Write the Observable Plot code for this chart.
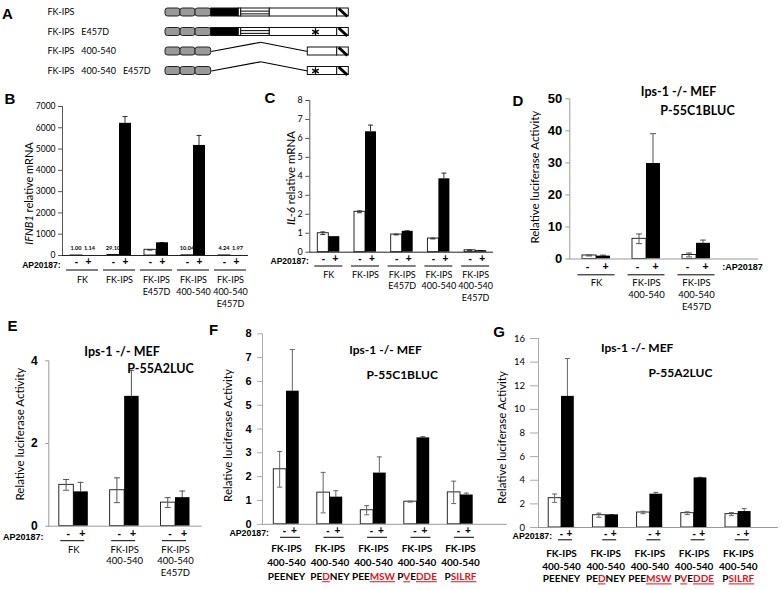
<!DOCTYPE html>
<html><head><meta charset="utf-8">
<script src="https://cdn.jsdelivr.net/npm/d3@7"></script>
<script src="https://cdn.jsdelivr.net/npm/@observablehq/plot@0.6"></script>
<style>
body{margin:0;background:#fff;}
#fig{position:relative;width:782px;height:590px;overflow:hidden;background:#fff;}
.panel{position:absolute;}
.panel svg{display:block;overflow:visible;}
.panel svg text,.panel svg tspan{white-space:pre;}
.letter{position:absolute;font:bold 15px "Liberation Sans",Arial,sans-serif;transform:translate(-50%,-50%);color:#000;}
</style></head><body><div id="fig"></div><script>
// ---------- DATA ----------
// Panel A: constructs
const aConstructs = ["FK-IPS", "FK-IPS   E457D", "FK-IPS   400-540", "FK-IPS   400-540   E457D"];
const aDeleted = [false, false, true, true];
const aMutant = [false, true, false, true];
const aFkbp = [[0, 15], [15, 30], [30, 45.7]];
const aBlack = [45.7, 73.3];
const aDivider = [73.3, 75.7];
const aStriped = [75.7, 104.3];
const aPlain = [104.3, 171.7];
const aShort = [142.3, 171.7];
const aTm = [171.7, 183.3];
const aSite = 150;
const aBend = 95;

// Panel B: IFNB1 relative mRNA
const bGroups = ["FK", "FK-IPS", "FK-IPS\nE457D", "FK-IPS\n400-540", "FK-IPS\n400-540\nE457D"];
const bMinus = [1.00, 29.10, 268, 10.04, 4.24];
const bMinusErr = [0, 0, 15, 0, 0];
const bPlus = [1.14, 6210, 596, 5170, 1.97];
const bPlusErr = [0, 320, 15, 470, 0];
const bMinusText = ["1.00", "29.10", "", "10.04", "4.24"];
const bPlusText = ["1.14", "", "", "", "1.97"];
const bTicks = [0, 1000, 2000, 3000, 4000, 5000, 6000, 7000];

// Panel C: IL-6 relative mRNA
const cGroups = ["FK", "FK-IPS", "FK-IPS\nE457D", "FK-IPS\n400-540", "FK-IPS\n400-540\nE457D"];
const cMinus = [1.00, 2.13, 0.93, 0.72, 0.10];
const cMinusErr = [0.07, 0.05, 0.02, 0.02, 0.01];
const cPlus = [0.82, 6.35, 1.10, 3.87, 0.08];
const cPlusErr = [0, 0.35, 0.03, 0.30, 0.01];
const cTicks = [0, 1, 2, 3, 4, 5, 6, 7, 8];

// Panel D: P-55C1BLUC
const dGroups = ["FK", "FK-IPS\n400-540", "FK-IPS\n400-540\nE457D"];
const dMinus = [1.1, 6.3, 1.25];
const dMinusErr = [0.15, 1.5, 0.6];
const dPlus = [0.9, 29.8, 4.9];
const dPlusErr = [0.3, 9.3, 1.0];
const dTicks = [0, 10, 20, 30, 40, 50];

// Panel E: P-55A2LUC
const eGroups = ["FK", "FK-IPS\n400-540", "FK-IPS\n400-540\nE457D"];
const eMinus = [1.0, 0.87, 0.57];
const eMinusErr = [0.13, 0.3, 0.12];
const ePlus = [0.83, 3.14, 0.69];
const ePlusErr = [0.23, 0.63, 0.16];
const eTicks = [0, 2, 4];

// Panels F and G: mutants
const fgGroups = ["FK-IPS\n400-540\nPEENEY", "FK-IPS\n400-540\nPEDNEY", "FK-IPS\n400-540\nPEEMSW", "FK-IPS\n400-540\nPVEDDE", "FK-IPS\n400-540\nPSILRF"];
const fMinus = [2.31, 1.33, 0.59, 0.95, 1.34];
const fMinusErr = [0.75, 0.85, 0.19, 0.02, 0.47];
const fPlus = [5.59, 1.14, 2.15, 3.63, 1.23];
const fPlusErr = [1.75, 0.27, 0.68, 0.05, 0.08];
const fTicks = [0, 1, 2, 3, 4, 5, 6, 7, 8];

const gMinus = [2.48, 1.04, 1.27, 1.21, 1.13];
const gMinusErr = [0.35, 0.17, 0.10, 0.12, 0.13];
const gPlus = [11.1, 1.07, 2.82, 4.2, 1.35];
const gPlusErr = [3.2, 0.03, 0.15, 0.05, 0.25];
const gTicks = [0, 2, 4, 6, 8, 10, 12, 14, 16];

// Rich text pieces (italic gene names, mutated residues)
const richText = {
  "IFNB1 relative mRNA": [["IFNB1", "i"], [" relative mRNA", ""]],
  "IL-6 relative mRNA": [["IL-6", "i"], [" relative mRNA", ""]],
  "PEDNEY": [["PE", ""], ["D", "m"], ["NEY", ""]],
  "PEEMSW": [["PEE", ""], ["MSW", "m"]],
  "PVEDDE": [["P", ""], ["V", "m"], ["E", ""], ["DDE", "m"]],
  "PSILRF": [["P", ""], ["SILRF", "m"]]
};

// ---------- STYLE ----------
const fontCal = "Lato, 'Open Sans', sans-serif";
const fontAri = "'Liberation Sans', Arial, sans-serif";
const ink = "#000";
const fig = document.getElementById("fig");

function richify(svg) {
  const ns = "http://www.w3.org/2000/svg";
  svg.querySelectorAll("text, tspan").forEach(el => {
    if (el.children.length) return;
    const spec = richText[el.textContent];
    if (!spec) return;
    el.textContent = "";
    for (const [t, s] of spec) {
      const ts = document.createElementNS(ns, "tspan");
      ts.textContent = t;
      if (s === "i") ts.setAttribute("font-style", "italic");
      if (s === "m") { ts.setAttribute("fill", "#e3121c"); ts.style.textDecoration = "underline"; }
      el.appendChild(ts);
    }
  });
  svg.querySelectorAll("text").forEach(t => { if (!t.hasAttribute("fill")) t.setAttribute("fill", ink); });
}

function mount(svg, left, top) {
  const d = document.createElement("div");
  d.className = "panel";
  d.style.left = left + "px";
  d.style.top = top + "px";
  d.appendChild(svg);
  fig.appendChild(d);
  richify(svg);
}

// ---------- PANEL A ----------
(function () {
  const rows = aConstructs.map((name, i) => ({name, i, del: aDeleted[i], mut: aMutant[i]}));
  const segs = [];
  rows.forEach(r => {
    if (!r.del) {
      segs.push({row: r.i, x1: aBlack[0], x2: aBlack[1], kind: "black"});
      segs.push({row: r.i, x1: aDivider[0], x2: aDivider[1], kind: "white"});
      segs.push({row: r.i, x1: aStriped[0], x2: aStriped[1], kind: "striped"});
      segs.push({row: r.i, x1: aPlain[0], x2: aPlain[1], kind: "white"});
    } else {
      segs.push({row: r.i, x1: aShort[0], x2: aShort[1], kind: "white"});
    }
    segs.push({row: r.i, x1: aTm[0], x2: aTm[1], kind: "tm"});
  });
  const fkbp = [];
  rows.forEach(r => aFkbp.forEach(([a, b]) => fkbp.push({row: r.i, x1: a, x2: b})));
  const h = 0.205;
  const svg = Plot.plot({
    width: 400, height: 85, marginLeft: 165, marginRight: 51, marginTop: 8, marginBottom: 10,
    style: {background: "transparent", overflow: "visible", fontFamily: fontCal},
    x: {domain: [0, 184], range: [165, 349], axis: null},
    y: {domain: [0, 3], range: [12, 70.5], axis: null},
    marks: [
      Plot.link(rows.filter(d => d.del), {x1: () => aFkbp[2][1], y1: "i", x2: () => aBend, y2: d => d.i - 0.47, stroke: ink, strokeWidth: 1.1}),
      Plot.link(rows.filter(d => d.del), {x1: () => aBend, y1: d => d.i - 0.47, x2: () => aShort[0], y2: "i", stroke: ink, strokeWidth: 1.1}),
      Plot.rect(fkbp, {x1: "x1", x2: "x2", y1: d => d.row - h, y2: d => d.row + h, fill: "#999", stroke: "#222", strokeWidth: 1, rx: 2.5}),
      Plot.rect(segs, {x1: "x1", x2: "x2", y1: d => d.row - h, y2: d => d.row + h, fill: d => d.kind === "black" ? "#000" : "#fff", stroke: "#111", strokeWidth: 1}),
      Plot.ruleY(segs.filter(d => d.kind === "striped"), {x1: "x1", x2: "x2", y: d => d.row - 0.07, stroke: ink, strokeWidth: 1}),
      Plot.ruleY(segs.filter(d => d.kind === "striped"), {x1: "x1", x2: "x2", y: d => d.row + 0.07, stroke: ink, strokeWidth: 1}),
      Plot.link(segs.filter(d => d.kind === "tm"), {x1: d => d.x1 + 1.5, y1: d => d.row - h, x2: d => d.x2 - 1.5, y2: d => d.row + h, stroke: ink, strokeWidth: 3}),
      Plot.dot(rows.filter(d => d.mut), {x: () => aSite, y: "i", symbol: "asterisk", r: 3.6, stroke: ink, strokeWidth: 1.3}),
      Plot.text(rows, {y: "i", text: "name", frameAnchor: "left", textAnchor: "start", dx: -118, fontSize: 9, fill: "#111", fontFamily: fontCal})
    ]
  });
  mount(svg, 0, 0);
})();

// ---------- BAR PANELS ----------
function barPanel(data, L) {
  const rows = data.groups.map((g, i) => ({group: g, minus: data.minus[i], mErr: data.minusErr[i], plus: data.plus[i], pErr: data.plusErr[i]}));
  const n = data.groups.length;
  const step = (L.range[1] - L.range[0]) / n;
  const bw = 2 * L.barW;
  const p = 1 - bw / step;
  const q = L.barW / 2;
  const cap = L.cap;
  const we = rows.filter(d => d.mErr > 0);
  const be = rows.filter(d => d.pErr > 0);
  const marks = [
    Plot.barY(rows, {x: "group", y: "minus", fill: "#fff", stroke: "#111", strokeWidth: 0.9, insetRight: L.barW}),
    Plot.barY(we, {x: "group", y1: d => d.minus - d.mErr, y2: d => d.minus + d.mErr, fill: L.errColor, insetLeft: q - 0.5, insetRight: bw - q - 0.5}),
    Plot.tickY(we, {x: "group", y: d => d.minus + d.mErr, stroke: L.errColor, insetLeft: q - cap / 2, insetRight: bw - q - cap / 2}),
    Plot.tickY(we, {x: "group", y: d => d.minus - d.mErr, stroke: L.errColor, insetLeft: q - cap / 2, insetRight: bw - q - cap / 2}),
    Plot.barY(be, {x: "group", y1: "plus", y2: d => d.plus + d.pErr, fill: L.errColor, insetLeft: bw - q - 0.5, insetRight: q - 0.5}),
    Plot.tickY(be, {x: "group", y: d => d.plus + d.pErr, stroke: L.errColor, insetLeft: bw - q - cap / 2, insetRight: q - cap / 2}),
    Plot.barY(rows, {x: "group", y: "plus", fill: "#000", insetLeft: L.barW}),
    Plot.ruleY([0], {stroke: L.baseColor}),
    Plot.text(rows, {x: "group", text: () => "-", frameAnchor: "bottom", dx: L.pm.shift - L.pm.sep, dy: L.pm.dy, fontFamily: fontAri, fontWeight: "bold", fontSize: L.pm.size, fill: ink}),
    Plot.text(rows, {x: "group", text: () => "+", frameAnchor: "bottom", dx: L.pm.shift + L.pm.sep, dy: L.pm.dy, fontFamily: fontAri, fontWeight: "bold", fontSize: L.pm.size, fill: ink}),
    Plot.tickY(rows, {x: "group", y: () => 0, dy: L.ul.dy, stroke: ink, strokeWidth: 1, insetLeft: bw / 2 + L.ul.shift - L.ul.half, insetRight: bw / 2 - L.ul.shift - L.ul.half}),
    Plot.text(rows, {x: "group", text: "group", frameAnchor: "bottom", lineAnchor: "top", dy: L.gl.dy, fontSize: L.gl.size, fontWeight: L.gl.weight, fontFamily: fontCal, lineHeight: L.gl.lh, fill: "#111"}),
    Plot.text([L.ap.text], {frameAnchor: L.ap.right ? "bottom-right" : "bottom-left", textAnchor: L.ap.right ? "start" : "end", dx: L.ap.dx, dy: L.ap.dy, fontFamily: fontAri, fontWeight: "bold", fontSize: L.ap.size, fill: ink}),
    Plot.text([data.yLabel], {frameAnchor: "left", textAnchor: "middle", rotate: -90, dx: L.yl.dx, dy: L.yl.dy, fontSize: L.yl.size, fontFamily: fontCal, fontWeight: "normal", fill: "#111"})
  ];
  (data.titles || []).forEach((t, k) => {
    const pos = L.titles[k];
    marks.push(Plot.text([t], {frameAnchor: "top-left", textAnchor: "middle", dx: pos.dx, dy: pos.dy, fontFamily: fontCal, fontWeight: "bold", fontSize: pos.size, fill: ink}));
  });
  if (data.minusText) {
    const vl = [];
    rows.forEach((r, i) => {
      if (data.minusText[i]) vl.push({group: r.group, v: r.minus, t: data.minusText[i], side: -1});
      if (data.plusText[i]) vl.push({group: r.group, v: r.plus, t: data.plusText[i], side: 1});
    });
    marks.push(Plot.text(vl.filter(d => d.side < 0), {x: "group", y: "v", text: "t", dx: -q - 0.5, dy: -7, fontSize: 5.6, fontWeight: "bold", fontFamily: fontCal, fill: "#222"}));
    marks.push(Plot.text(vl.filter(d => d.side > 0), {x: "group", y: "v", text: "t", dx: q + 1, dy: -7, fontSize: 5.6, fontWeight: "bold", fontFamily: fontCal, fill: "#222"}));
  }
  const svg = Plot.plot({
    width: L.width, height: L.height,
    marginLeft: L.marginLeft, marginRight: L.marginRight, marginTop: L.marginTop, marginBottom: L.marginBottom,
    style: {background: "transparent", overflow: "visible", fontFamily: L.tickFont, fontSize: L.tickSize + "px", fontWeight: L.tickWeight, color: L.axisColor},
    x: {type: "band", domain: data.groups, range: L.range, paddingInner: p, paddingOuter: p / 2, round: false, axis: null},
    y: {domain: [0, data.ticks[data.ticks.length - 1]], ticks: data.ticks, tickSize: L.tickLen, tickPadding: L.tickPad, line: true, label: null, tickFormat: d => String(d)},
    marks
  });
  mount(svg, L.left, L.top);
}

barPanel(
  {groups: bGroups, minus: bMinus, minusErr: bMinusErr, plus: bPlus, plusErr: bPlusErr, ticks: bTicks, yLabel: "IFNB1 relative mRNA", minusText: bMinusText, plusText: bPlusText},
  {left: 0, top: 85, width: 260, height: 230, marginLeft: 62, marginRight: 12, marginTop: 21, marginBottom: 60, range: [63.5, 248.5], barW: 12, cap: 5,
   tickFont: fontCal, tickSize: 8.5, tickWeight: "normal", tickLen: 4, tickPad: 3, axisColor: "#555", baseColor: "#222", errColor: "#333",
   yl: {dx: -33.5, dy: 12.5, size: 11}, ap: {text: "AP20187:", right: false, dx: -2, dy: 12, size: 8.5},
   pm: {dy: 9.5, sep: 6, shift: 0, size: 10}, ul: {dy: 14.5, half: 16, shift: 0}, gl: {dy: 19.5, size: 9, weight: "normal", lh: 1.3}, titles: []}
);

barPanel(
  {groups: cGroups, minus: cMinus, minusErr: cMinusErr, plus: cPlus, plusErr: cPlusErr, ticks: cTicks, yLabel: "IL-6 relative mRNA"},
  {left: 260, top: 85, width: 260, height: 230, marginLeft: 49.3, marginRight: 27, marginTop: 15, marginBottom: 63.3, range: [49.95, 233.45], barW: 11, cap: 5,
   tickFont: fontCal, tickSize: 9, tickWeight: "normal", tickLen: 4, tickPad: 3, axisColor: "#555", baseColor: "#222", errColor: "#333",
   yl: {dx: -18.5, dy: 1.6, size: 11.5}, ap: {text: "AP20187:", right: false, dx: -1, dy: 12, size: 8.5},
   pm: {dy: 9.5, sep: 6, shift: 0.5, size: 10}, ul: {dy: 13.8, half: 14, shift: 0}, gl: {dy: 17.5, size: 9, weight: "normal", lh: 1.27}, titles: []}
);

barPanel(
  {groups: dGroups, minus: dMinus, minusErr: dMinusErr, plus: dPlus, plusErr: dPlusErr, ticks: dTicks, yLabel: "Relative luciferase Activity", titles: ["Ips-1 -/- MEF", "P-55C1BLUC"]},
  {left: 520, top: 80, width: 262, height: 240, marginLeft: 49.3, marginRight: 24, marginTop: 18.3, marginBottom: 61.5, range: [51, 201], barW: 14, cap: 6,
   tickFont: fontAri, tickSize: 13, tickWeight: "bold", tickLen: 4, tickPad: 3.5, axisColor: "#999", baseColor: "#999", errColor: "#555",
   yl: {dx: -34.3, dy: -1.7, size: 11.5}, ap: {text: ":AP20187", right: true, dx: -36.3, dy: 10.5, size: 9},
   pm: {dy: 10.5, sep: 9, shift: 0, size: 10.5}, ul: {dy: 15.8, half: 18.5, shift: 0}, gl: {dy: 19, size: 9.5, weight: "normal", lh: 1.23},
   titles: [{dx: 108.7, dy: -11.3, size: 12.5}, {dx: 127.7, dy: 7.7, size: 12.5}]}
);

barPanel(
  {groups: eGroups, minus: eMinus, minusErr: eMinusErr, plus: ePlus, plusErr: ePlusErr, ticks: eTicks, yLabel: "Relative luciferase Activity", titles: ["Ips-1 -/- MEF", "P-55A2LUC"]},
  {left: 0, top: 315, width: 215, height: 275, marginLeft: 48.3, marginRight: 13.3, marginTop: 45.3, marginBottom: 64.3, range: [47.9, 200.4], barW: 14.5, cap: 6,
   tickFont: fontAri, tickSize: 12, tickWeight: "bold", tickLen: 3, tickPad: 8, axisColor: "#999", baseColor: "#999", errColor: "#555",
   yl: {dx: -28.3, dy: -9.4, size: 11.5}, ap: {text: "AP20187:", right: false, dx: -5.3, dy: 13.5, size: 9},
   pm: {dy: 10.5, sep: 7, shift: 1.5, size: 10.5}, ul: {dy: 14.5, half: 12, shift: -1}, gl: {dy: 18.3, size: 9.5, weight: "normal", lh: 1.23},
   titles: [{dx: 73.2, dy: -13.6, size: 12.5}, {dx: 111.7, dy: 3, size: 12.5}]}
);

barPanel(
  {groups: fgGroups, minus: fMinus, minusErr: fMinusErr, plus: fPlus, plusErr: fPlusErr, ticks: fTicks, yLabel: "Relative luciferase Activity", titles: ["Ips-1 -/- MEF", "P-55C1BLUC"]},
  {left: 215, top: 315, width: 300, height: 275, marginLeft: 47, marginRight: 8.3, marginTop: 18.3, marginBottom: 66.2, range: [49.25, 266.75], barW: 12.7, cap: 5,
   tickFont: fontAri, tickSize: 11, tickWeight: "bold", tickLen: 5, tickPad: 6, axisColor: "#aaa", baseColor: "#999", errColor: "#666",
   yl: {dx: -33.7, dy: 6.5, size: 11.5}, ap: {text: "AP20187:", right: false, dx: 6.5, dy: 12, size: 8.8},
   pm: {dy: 9.5, sep: 4.7, shift: 2.7, size: 10}, ul: {dy: 13, half: 10, shift: 4}, gl: {dy: 18, size: 10, weight: "bold", lh: 1.4},
   titles: [{dx: 123, dy: 11.7, size: 12}, {dx: 139.7, dy: 36.7, size: 12}]}
);

barPanel(
  {groups: fgGroups, minus: gMinus, minusErr: gMinusErr, plus: gPlus, plusErr: gPlusErr, ticks: gTicks, yLabel: "Relative luciferase Activity", titles: ["Ips-1 -/- MEF", "P-55A2LUC"]},
  {left: 495, top: 315, width: 287, height: 275, marginLeft: 43, marginRight: 4, marginTop: 23, marginBottom: 63, range: [43.9, 264.9], barW: 12.8, cap: 5,
   tickFont: fontCal, tickSize: 9.5, tickWeight: "normal", tickLen: 8, tickPad: 5.5, axisColor: "#aaa", baseColor: "#999", errColor: "#666",
   yl: {dx: -36, dy: 4.5, size: 11.5}, ap: {text: "AP20187:", right: false, dx: 13.7, dy: 11.5, size: 8.8},
   pm: {dy: 9.5, sep: 4, shift: 4, size: 10}, ul: {dy: 12.3, half: 7, shift: 4}, gl: {dy: 20.5, size: 10, weight: "bold", lh: 1.27},
   titles: [{dx: 98.7, dy: 5.3, size: 12}, {dx: 142, dy: 30.3, size: 12}]}
);

// Panel letters
[["A", 7.5, 12.5], ["B", 10, 98], ["C", 270, 97], ["D", 518, 100], ["E", 12.5, 325], ["F", 213.5, 329], ["G", 499, 331]].forEach(([t, x, y]) => {
  const d = document.createElement("div");
  d.className = "letter";
  d.textContent = t;
  d.style.left = x + "px";
  d.style.top = y + "px";
  fig.appendChild(d);
});
</script></body></html>
